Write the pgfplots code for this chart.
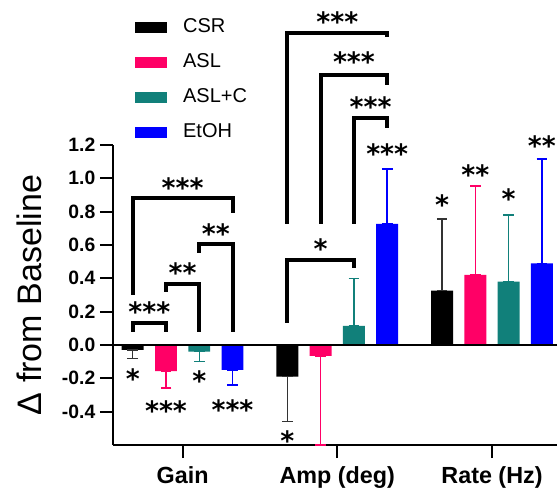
\documentclass[border=0pt]{standalone}
\usepackage{fontspec}
\setmainfont{Liberation Sans}
\newfontfamily\djb{DejaVu Sans}
\usepackage{pgfplots}
\pgfplotsset{compat=1.18}
\definecolor{cCSR}{RGB}{0,0,0}
\definecolor{cASL}{RGB}{255,0,102}
\definecolor{cASLC}{RGB}{17,128,122}
\definecolor{cEtOH}{RGB}{0,0,255}
\newcommand{\one}{{\djb\bfseries *}}
\newcommand{\two}{{\djb\bfseries **}}
\newcommand{\three}{{\djb\bfseries ***}}
\tikzset{star/.style={font=\fontsize{20}{20}\selectfont, inner sep=0pt, yshift=-4pt},
  brk/.style={line width=3pt, line join=miter, line cap=butt}}
\pgfplotsset{
  errs/.style={error bars/.cd, y dir=both, y explicit,
    error bar style={line width=1.1pt, draw=#1},
    error mark options={rotate=90, mark size=4pt, line width=1.1pt, draw=#1}},
  swatch/.style={legend image code/.code={\fill[#1] (0pt,-3.75pt) rectangle (23pt,3.75pt);}}
}
\begin{document}
\begin{tikzpicture}
\begin{axis}[
  scale only axis, width=333pt, height=225pt,
  xmin=-0.45, xmax=2.42, ymin=-0.6, ymax=1.2,
  axis x line*=bottom, axis y line*=left,
  axis line style={line width=2pt},
  xtick={0,1,2}, xticklabels={Gain,Amp (deg),Rate (Hz)},
  ytick={-0.4,-0.2,0,0.2,0.4,0.6,0.8,1.0,1.2},
  tick align=outside, major tick length=9.75pt,
  tick style={line width=1.6pt, black},
  /pgf/number format/assume math mode=true,
  yticklabel style={font=\bfseries\fontsize{14.5}{14.5}\selectfont,
    /pgf/number format/fixed, /pgf/number format/fixed zerofill, /pgf/number format/precision=1},
  xticklabel style={font=\bfseries\fontsize{17.5}{17.5}\selectfont, yshift=-3pt},
  ylabel={Δ from Baseline},
  ylabel style={font=\fontsize{25.5}{25.5}\selectfont, at={(-0.162,0.5)}, anchor=base},
  clip=false,
  legend style={at={(0.0495,1.43)}, anchor=north west, draw=none, fill=none,
    font=\fontsize{15}{15}\selectfont, row sep=10.3pt, inner sep=0pt,
    /tikz/every odd column/.append style={column sep=10.5pt}},
  legend cell align=left,
]
\addlegendimage{swatch=cCSR}\addlegendentry{CSR}
\addlegendimage{swatch=cASL}\addlegendentry{ASL}
\addlegendimage{swatch=cASLC}\addlegendentry{ASL+C}
\addlegendimage{swatch=cEtOH}\addlegendentry{EtOH}

\addplot[ybar, bar width=0.142, bar shift=0pt, fill=cCSR, draw=none, forget plot, errs=black!80]
  coordinates {(-0.3225,-0.03) += (0,0) -= (0,0.05)
               (0.6775,-0.19) += (0,0) -= (0,0.27)
               (1.6775,0.326) += (0,0.43) -= (0,0)};
\addplot[ybar, bar width=0.142, bar shift=0pt, fill=cASL, draw=none, forget plot, errs=cASL]
  coordinates {(-0.1075,-0.157) += (0,0) -= (0,0.10)
               (0.8925,-0.066) += (0,0) -= (0,0.534)
               (1.8925,0.42) += (0,0.534) -= (0,0)};
\addplot[ybar, bar width=0.142, bar shift=0pt, fill=cASLC, draw=none, forget plot, errs=cASLC]
  coordinates {(0.1075,-0.04) += (0,0) -= (0,0.06)
               (1.1075,0.114) += (0,0.286) -= (0,0)
               (2.1075,0.38) += (0,0.40) -= (0,0)};
\addplot[ybar, bar width=0.142, bar shift=0pt, fill=cEtOH, draw=none, forget plot, errs=cEtOH]
  coordinates {(0.3225,-0.15) += (0,0) -= (0,0.09)
               (1.3225,0.726) += (0,0.33) -= (0,0)
               (2.3225,0.49) += (0,0.626) -= (0,0)};

\draw[line width=2.2pt] (axis cs:-0.45,0) -- (axis cs:2.42,0);

% Gain brackets
\draw[brk] (axis cs:-0.3225,0.078) -- (axis cs:-0.3225,0.132) -- (axis cs:-0.1075,0.132) -- (axis cs:-0.1075,0.078);
\node[star] at (axis cs:-0.215,0.234) {\three};
\draw[brk] (axis cs:-0.1075,0.318) -- (axis cs:-0.1075,0.366) -- (axis cs:0.1075,0.366) -- (axis cs:0.1075,0.078);
\node[star] at (axis cs:0,0.468) {\two};
\draw[brk] (axis cs:0.1075,0.552) -- (axis cs:0.1075,0.606) -- (axis cs:0.3225,0.606) -- (axis cs:0.3225,0.078);
\node[star] at (axis cs:0.215,0.70) {\two};
\draw[brk] (axis cs:-0.3225,0.30) -- (axis cs:-0.3225,0.882) -- (axis cs:0.3225,0.882) -- (axis cs:0.3225,0.792);
\node[star] at (axis cs:0,0.978) {\three};
\node[star] at (axis cs:-0.3225,-0.17) {\one};
\node[star] at (axis cs:-0.1075,-0.36) {\three};
\node[star] at (axis cs:0.1075,-0.18) {\one};
\node[star] at (axis cs:0.3225,-0.354) {\three};

% Amp brackets
\draw[brk] (axis cs:0.6775,0.132) -- (axis cs:0.6775,0.51) -- (axis cs:1.1075,0.51) -- (axis cs:1.1075,0.462);
\node[star] at (axis cs:0.8925,0.61) {\one};
\draw[brk] (axis cs:1.1075,0.726) -- (axis cs:1.1075,1.36) -- (axis cs:1.3225,1.36) -- (axis cs:1.3225,1.30);
\node[star] at (axis cs:1.215,1.464) {\three};
\draw[brk] (axis cs:0.8925,0.726) -- (axis cs:0.8925,1.62) -- (axis cs:1.3225,1.62) -- (axis cs:1.3225,1.56);
\node[star] at (axis cs:1.1075,1.73) {\three};
\draw[brk] (axis cs:0.6775,0.726) -- (axis cs:0.6775,1.872) -- (axis cs:1.3225,1.872) -- (axis cs:1.3225,1.85);
\node[star] at (axis cs:1.0,1.97) {\three};
\node[star] at (axis cs:1.3225,1.18) {\three};
\node[star] at (axis cs:0.6775,-0.54) {\one};

% Rate
\node[star] at (axis cs:1.6775,0.876) {\one};
\node[star] at (axis cs:1.8925,1.056) {\two};
\node[star] at (axis cs:2.1075,0.91) {\one};
\node[star] at (axis cs:2.3225,1.23) {\two};
\end{axis}
\path (current axis.south west) ++(-84.75pt,-36pt) coordinate (BBa);
\path (current axis.north east) ++(0pt,108.75pt) coordinate (BBb);
\pgfresetboundingbox
\path (BBa) rectangle (BBb);
\end{tikzpicture}
\end{document}
